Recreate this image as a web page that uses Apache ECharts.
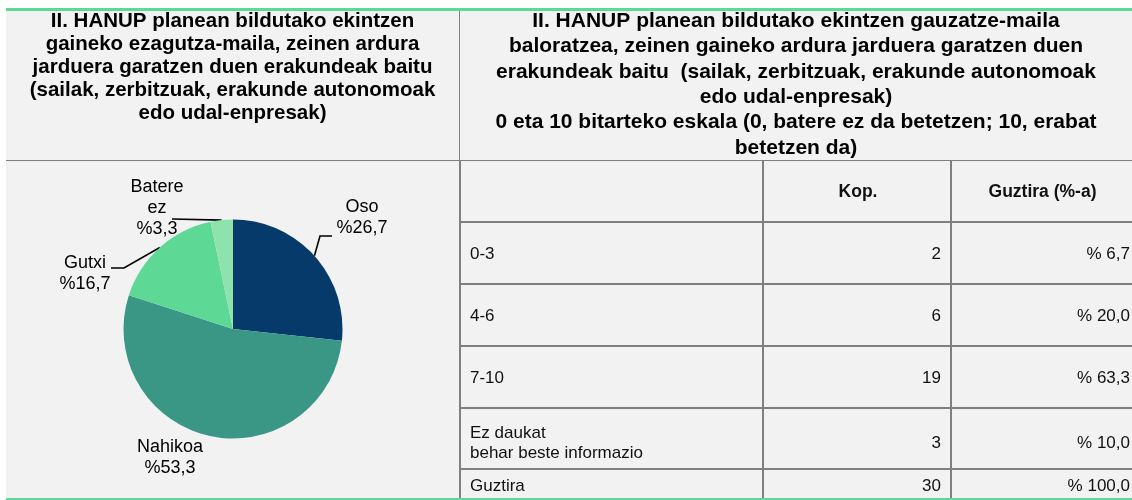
<!DOCTYPE html>
<html>
<head>
<meta charset="utf-8">
<script src="https://cdn.jsdelivr.net/npm/echarts@6/dist/echarts.min.js"></script>
<style>
html,body{margin:0;padding:0;background:#fff;}
#chart{width:1132px;height:500px;}
</style>
</head>
<body>
<div id="chart"></div>
<script>
// ---------- DATA ----------
const leftTitleLines = [
  'II. HANUP planean bildutako ekintzen',
  'gaineko ezagutza-maila, zeinen ardura',
  'jarduera garatzen duen erakundeak baitu',
  '(sailak, zerbitzuak, erakunde autonomoak',
  'edo udal-enpresak)'
];
const rightTitleLines = [
  'II. HANUP planean bildutako ekintzen gauzatze-maila',
  'baloratzea, zeinen gaineko ardura jarduera garatzen duen',
  'erakundeak baitu  (sailak, zerbitzuak, erakunde autonomoak',
  'edo udal-enpresak)',
  '0 eta 10 bitarteko eskala (0, batere ez da betetzen; 10, erabat',
  'betetzen da)'
];
const pieCategories = ['Oso', 'Nahikoa', 'Gutxi', 'Batere ez'];
const pieValues = [26.7, 53.3, 16.7, 3.3];
const tableHeaders = ['', 'Kop.', 'Guztira (%-a)'];
const tableRowLabels = ['0-3', '4-6', '7-10', 'Ez daukat\nbehar beste informazio', 'Guztira'];
const tableCounts = [2, 6, 19, 3, 30];
const tablePercents = [6.7, 20.0, 63.3, 10.0, 100.0];

// ---------- STYLE / LAYOUT ----------
const pieColors = ['#063a6b', '#3a9785', '#5ed995', '#8ee3ad'];
const green = '#5ed995';
const panelBg = '#f2f2f2';
const gridColor = '#808080';
const SANS = '"Liberation Sans", Arial, sans-serif';
const pieCenter = [233, 329];
const pieRadius = 109.5;
// label placement (label block centre, and elbow points of leader line)
const labelPlacement = [
  { x: 362, y: 218, line: [[320, 236], [332, 236]] },
  { x: 170, y: 458, line: null },
  { x: 85,  y: 274, line: [[124, 268], [111, 268]] },
  { x: 157, y: 208, line: [[172, 219]] }
];

const colX = [461, 763, 951, 1132];
const headerTop = 160, headerH = 62;
const rowH = [62, 62, 62, 61, 29];
const rowTextShift = [1, 1, 1, 5, 3];

function fmtNum(v) { return v.toFixed(1).replace('.', ','); }

// slice mid-point on the edge, computed from the data
const total = pieValues.reduce((a, b) => a + b, 0);
const edgePoints = [];
(function () {
  let cum = 0;
  pieValues.forEach(v => {
    const mid = (cum + v / 2) / total * 2 * Math.PI; // clockwise from top
    edgePoints.push([pieCenter[0] + pieRadius * Math.sin(mid), pieCenter[1] - pieRadius * Math.cos(mid)]);
    cum += v;
  });
})();

// ---------- GRAPHIC (panels, titles, table) ----------
const g = [];
g.push({ type: 'rect', z: -10, shape: { x: 6, y: 11, width: 1126, height: 487 }, style: { fill: panelBg } });
g.push({ type: 'rect', z: -5, shape: { x: 6, y: 8, width: 1126, height: 3 }, style: { fill: green } });
g.push({ type: 'rect', z: -5, shape: { x: 6, y: 498, width: 1126, height: 2 }, style: { fill: green } });
// header separators
g.push({ type: 'rect', z: -4, shape: { x: 6, y: 160, width: 1126, height: 1 }, style: { fill: gridColor } });
g.push({ type: 'rect', z: -4, shape: { x: 459, y: 11, width: 1, height: 149 }, style: { fill: gridColor } });
g.push({ type: 'rect', z: -4, shape: { x: 459, y: 160, width: 2, height: 338 }, style: { fill: gridColor } });

// titles
g.push({ type: 'text', z: 5, style: {
  text: leftTitleLines.join('\n'), x: 232.5, y: 67, align: 'center', verticalAlign: 'middle',
  font: 'bold 20.5px ' + SANS, lineHeight: 23, fill: '#000' } });
g.push({ type: 'text', z: 5, style: {
  text: rightTitleLines.join('\n'), x: 796, y: 84.5, align: 'center', verticalAlign: 'middle',
  font: 'bold 21px ' + SANS, lineHeight: 25.4, fill: '#000' } });

// table grid
const bottomY = 498;
[colX[1], colX[2]].forEach(x => {
  g.push({ type: 'rect', z: -4, shape: { x: x - 1, y: headerTop, width: 2, height: bottomY - headerTop }, style: { fill: gridColor } });
});
let y = headerTop + headerH;
const rowTops = [];
rowH.forEach((h, i) => {
  rowTops.push(y);
  g.push({ type: 'rect', z: -4, shape: { x: colX[0], y: y - 1, width: colX[3] - colX[0], height: 2 }, style: { fill: gridColor } });
  y += h;
});
// header cells
tableHeaders.forEach((t, c) => {
  if (!t) return;
  g.push({ type: 'text', z: 5, style: {
    text: t, x: (colX[c] + colX[c + 1]) / 2 + 1, y: headerTop + headerH / 2 + 1, align: 'center', verticalAlign: 'middle',
    font: 'bold 17.5px ' + SANS, fill: '#111' } });
});
// body cells
tableRowLabels.forEach((lab, r) => {
  const cy = rowTops[r] + rowH[r] / 2 + rowTextShift[r];
  g.push({ type: 'text', z: 5, style: { text: lab, x: colX[0] + 9, y: cy, align: 'left', verticalAlign: 'middle', font: '17px ' + SANS, lineHeight: 20, fill: '#111' } });
  g.push({ type: 'text', z: 5, style: { text: String(tableCounts[r]), x: colX[2] - 10, y: cy, align: 'right', verticalAlign: 'middle', font: '17px ' + SANS, fill: '#111' } });
  g.push({ type: 'text', z: 5, style: { text: '% ' + fmtNum(tablePercents[r]), x: colX[3] - 2, y: cy, align: 'right', verticalAlign: 'middle', font: '17px ' + SANS, fill: '#111' } });
});

// ---------- CHART ----------
const chart = echarts.init(document.getElementById('chart'), null, { renderer: 'canvas' });
chart.setOption({
  animation: false,
  backgroundColor: '#ffffff',
  graphic: g,
  series: [{
    type: 'pie',
    center: pieCenter,
    radius: pieRadius,
    startAngle: 90,
    clockwise: true,
    silent: true,
    avoidLabelOverlap: false,
    emphasis: { disabled: true },
    itemStyle: { borderWidth: 0 },
    data: pieCategories.map((n, i) => ({
      name: n, value: pieValues[i],
      itemStyle: { color: pieColors[i] },
      labelLine: { show: !!labelPlacement[i].line }
    })),
    label: {
      show: true, position: 'outside',
      formatter: p => p.name.split(' ').join('\n') + '\n%' + fmtNum(p.value),
      fontFamily: SANS, fontSize: 18, lineHeight: 21, color: '#000'
    },
    labelLine: { show: true, length: 10, length2: 10, lineStyle: { color: '#000', width: 1.6 } },
    labelLayout: function (params) {
      const pl = labelPlacement[params.dataIndex];
      const out = { x: pl.x, y: pl.y, align: 'center', verticalAlign: 'middle' };
      if (pl.line) out.labelLinePoints = [edgePoints[params.dataIndex]].concat(pl.line);
      return out;
    }
  }]
});
</script>
</body>
</html>
